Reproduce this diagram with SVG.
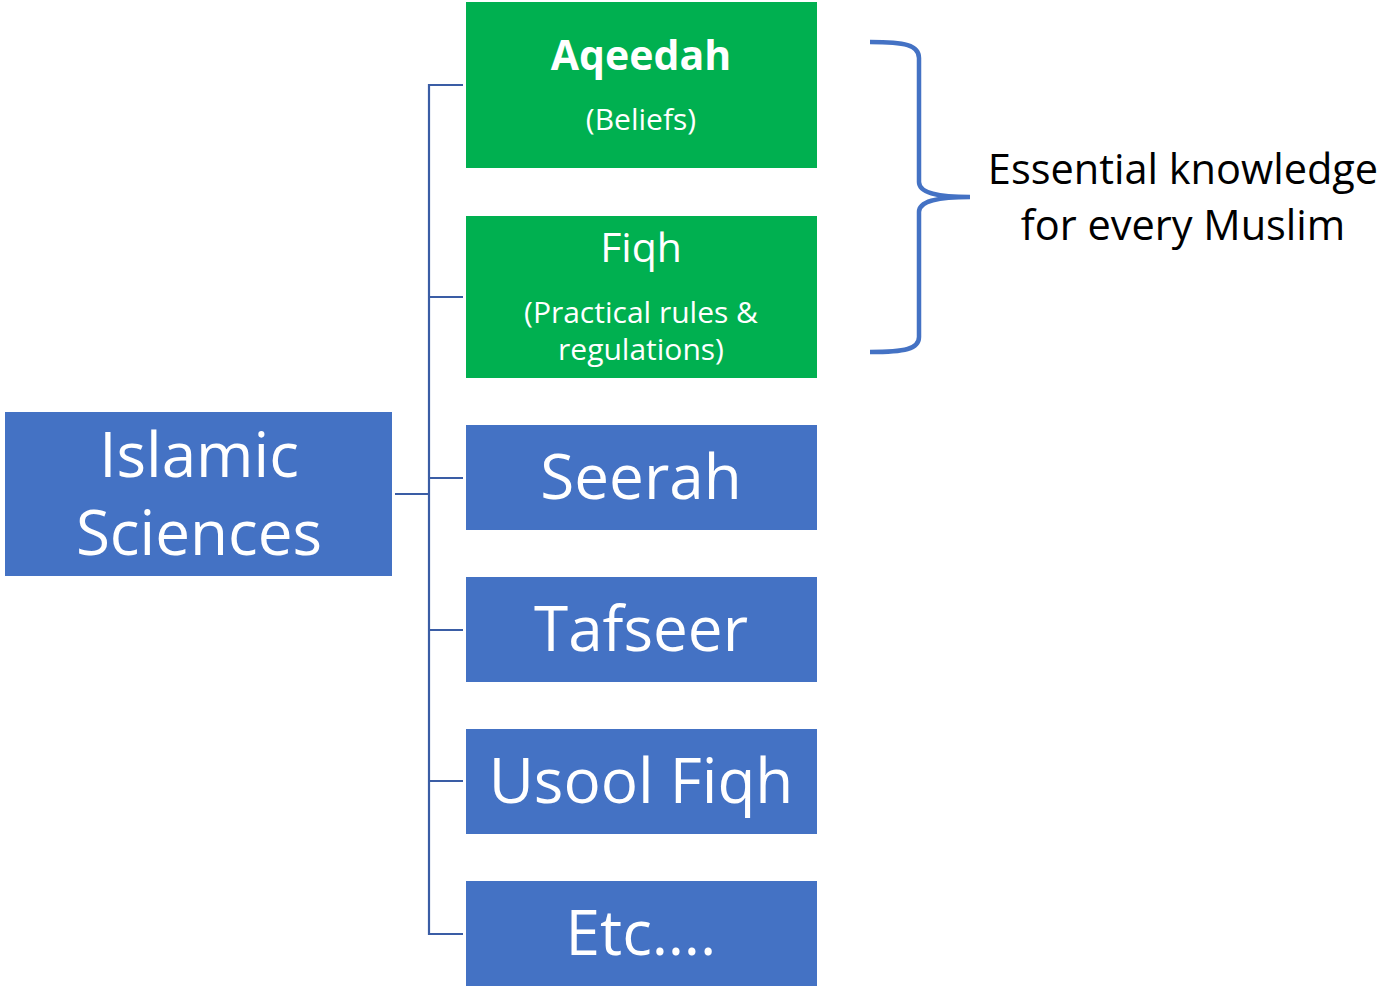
<svg xmlns="http://www.w3.org/2000/svg" width="1383" height="987" viewBox="0 0 1383 987">
<style>
text{font-family:"Open Sans","Noto Sans","Liberation Sans",sans-serif;fill:#fff;text-anchor:middle}
.blue{fill:#4472C4}
.green{fill:#00B050}
.conn{stroke:#3A5DA5;stroke-width:2.2;fill:none}
.big{font-size:62px}
.mid{font-size:41px}
.sm{font-size:30px}
.note{fill:#000;font-size:41.5px}
</style>
<rect width="1383" height="987" fill="#fff"/>
<g id="connectors">
<path class="conn" d="M395 494H429M463 85H429V934H463M429 297H463M429 478H463M429 630H463M429 781H463"/>
<path d="M870 42C905 42 919 45 919 58V182C919 192 935 197 970 197C935 197 919 202 919 212V337C919 349 905 352 870 352" fill="none" stroke="#4472C4" stroke-width="4.5"/>
</g>
<g id="root"><rect class="blue" x="5" y="412" width="387" height="164"/><text class="big" x="199" y="477">Islamic</text><text class="big" x="199" y="555">Sciences</text></g>
<g id="aqeedah"><rect class="green" x="466" y="2" width="351" height="166"/><text class="mid" x="641" y="70" font-weight="bold">Aqeedah</text><text class="sm" x="641" y="130">(Beliefs)</text></g>
<g id="fiqh"><rect class="green" x="466" y="216" width="351" height="162"/><text class="mid" x="641" y="262">Fiqh</text><text class="sm" x="641" y="323">(Practical rules &amp;</text><text class="sm" x="641" y="360">regulations)</text></g>
<g id="seerah"><rect class="blue" x="466" y="425" width="351" height="105"/><text class="big" x="641" y="499">Seerah</text></g>
<g id="tafseer"><rect class="blue" x="466" y="577" width="351" height="105"/><text class="big" x="641" y="651">Tafseer</text></g>
<g id="usool"><rect class="blue" x="466" y="729" width="351" height="105"/><text class="big" x="641" y="803">Usool Fiqh</text></g>
<g id="etc"><rect class="blue" x="466" y="881" width="351" height="105"/><text class="big" x="641" y="955">Etc….</text></g>
<g id="note"><text class="note" x="1183" y="184">Essential knowledge</text><text class="note" x="1183" y="240">for every Muslim</text></g>
</svg>
